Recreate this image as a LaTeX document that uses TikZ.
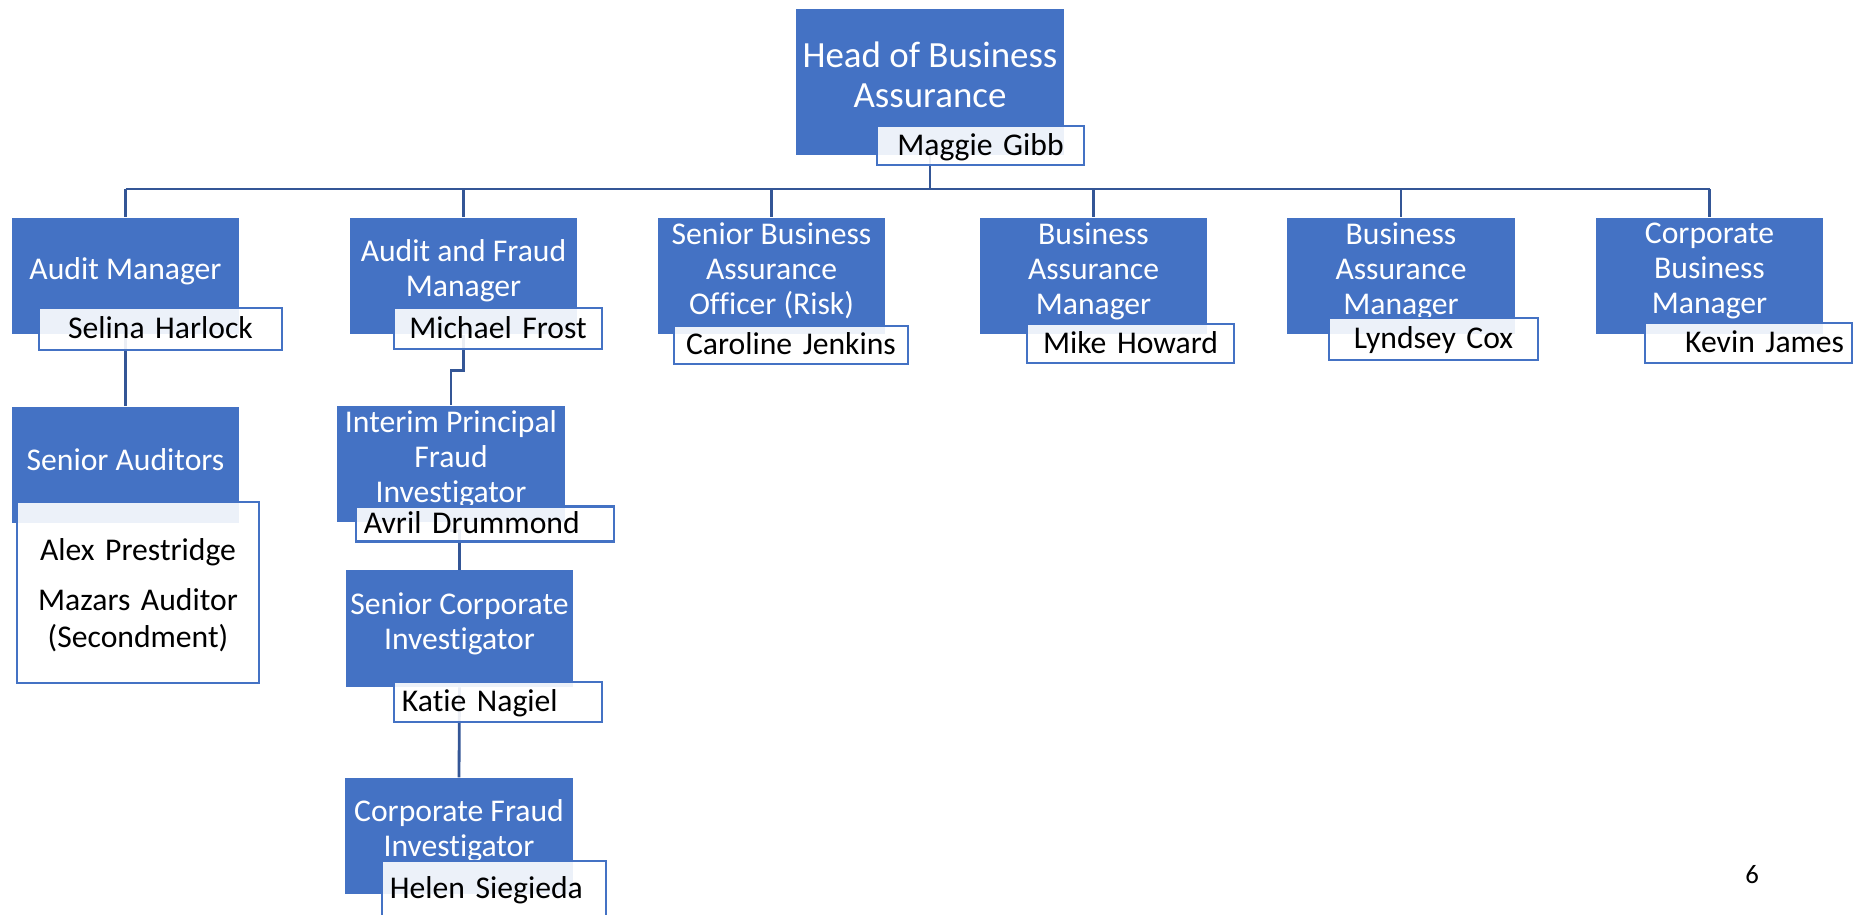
\documentclass[tikz,border=0pt]{standalone}
\usepackage{fontspec}
\setmainfont{Carlito}[Ligatures=NoCommon]
\usetikzlibrary{backgrounds}
\definecolor{boxblue}{HTML}{4472C4}
\definecolor{linkblue}{RGB}{52,86,150}
\tikzset{
	rolebox/.style={fill=boxblue, inner sep=0pt, minimum width=2.27cm, minimum height=1.16cm},
	roletext/.style={text=white, font=\fontsize{9}{10}\selectfont, align=center, yshift=0.05cm},
	namebox/.style={draw=boxblue, line width=0.6pt, fill=white, fill opacity=0.9, text opacity=1,
		inner xsep=0.08cm, inner ysep=0pt, font=\fontsize{9}{10.5}\selectfont, align=center},
	oneline/.style={text height=5.9pt, text depth=0.3pt}
}
\tikzset{link/.style={draw=linkblue, line width=0.8pt}}

\begin{document}
\begin{tikzpicture}[x=0.01cm, y=-0.01cm]
			%%%%% START %%%%%
			\useasboundingbox (0,0) rectangle (1864,914);
			
			\node[rolebox, minimum width=2.68cm, minimum height=1.46cm,
				label={[roletext, font=\fontsize{10.5}{11.4}\selectfont, yshift=0.025cm]center:{Head of Business\\Assurance}}] (head) at (930,82) {};
			\node[namebox, oneline, text width=1.91cm, minimum height=0.39cm] (gibb) at (980.5,145.5) {Maggie Gibb};
			
			\node[rolebox, label={[roletext]center:Audit Manager}] (audit) at (125.5,276) {};
			\node[rolebox, label={[roletext]center:{Audit and Fraud\\Manager}}] (fraud) at (463.5,276) {};
			\node[rolebox, label={[roletext]center:{Senior Business\\Assurance\\Officer (Risk)}}] (sbao) at (771.5,276) {};
			\node[rolebox, label={[roletext]center:{Business\\Assurance\\Manager}}] (bam1) at (1093.5,276) {};
			\node[rolebox, label={[roletext]center:{Business\\Assurance\\Manager}}] (bam2) at (1401,276) {};
			\node[rolebox, label={[roletext]center:{Corporate\\Business\\Manager}}] (corp) at (1709.5,276) {};
			
			\node[namebox, oneline, text width=2.27cm, minimum height=0.42cm] (harlock) at (160.5,329) {Selina Harlock};
			\node[namebox, oneline, text width=1.92cm, minimum height=0.41cm] (frost) at (498,328.5) {Michael Frost};
			\node[namebox, oneline, text width=2.18cm, minimum height=0.38cm] (jenkins) at (791,345) {Caroline Jenkins};
			\node[namebox, oneline, text width=1.91cm, minimum height=0.39cm] (howard) at (1130.5,343.5) {Mike Howard};
			\node[namebox, oneline, text width=1.93cm, minimum height=0.42cm] (cox) at (1433.5,339) {Lyndsey Cox};
			\node[namebox, oneline, text width=1.91cm, minimum height=0.40cm, align=right] (james) at (1748.5,343) {Kevin James};
			
			\node[rolebox, label={[roletext]center:Senior Auditors}] (auditors) at (125.5,465) {};
			\node[namebox, text width=2.26cm, minimum height=1.81cm] (team) at (138,592.5) {\rule{0pt}{8pt}Alex Prestridge\\[3.7pt]Mazars Auditor\\(Secondment)};
			
			\node[rolebox, label={[roletext]center:{Interim Principal\\Fraud\\Investigator}}] (interim) at (451,464) {};
			\node[namebox, oneline, text width=2.42cm, minimum height=0.35cm, align=left] (drummond) at (485,524) {Avril Drummond};
			\node[rolebox, label={[roletext]center:{Senior Corporate\\Investigator}}] (seniorinv) at (459.5,628.5) {};
			\node[namebox, oneline, text width=1.92cm, minimum height=0.40cm, align=left] (nagiel) at (498,702) {Katie Nagiel};
			\node[rolebox, label={[roletext]center:{Corporate Fraud\\Investigator}}] (fraudinv) at (459,836) {};
			\node[namebox, oneline, text width=2.08cm, minimum height=0.56cm, align=left] (siegieda) at (494,889) {Helen Siegieda};
			
			\node[font=\fontsize{7.6}{9}\selectfont] (pagenum) at (1752,875) {6};
			
			% connectors behind the boxes
			\begin{scope}[on background layer]
				\coordinate (bus) at (930,189);
				\draw[link] (head.south) -- (bus);
				\draw[link] (audit.north |- bus) -- (corp.north |- bus);
				\foreach \n in {audit,fraud,sbao,bam1,bam2,corp}
					\draw[link] (\n.north |- bus) -- (\n.north);
				\draw[link] (audit.south) -- (auditors.north);
				\draw[link] (fraud.south) -- ++(0,36) -| (interim.north);
				\draw[link] (interim.south) -- ++(0,8) -| (seniorinv.north);
				\draw[link] (seniorinv.south) -- (fraudinv.north);
			\end{scope}
			
			%%%%% END %%%%%
\end{tikzpicture}
\end{document}
